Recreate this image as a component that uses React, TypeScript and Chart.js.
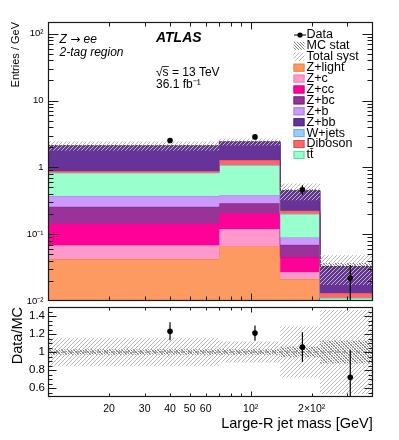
import React, { useEffect, useRef } from "react";
import { Chart, registerables } from "chart.js";

Chart.register(...registerables);

// ---------------- data ----------------
const binEdges = [10, 70, 140, 220, 400];
const zLight = [0.0424, 0.0662, 0.0213, 0.004];
const zC = [0.0261, 0.0538, 0.0058, 0.0008];
const zCC = [0.0755, 0.086, 0.0183, 0.0015];
const zBC = [0.114, 0.084, 0.0238, 0.001];
const zB = [0.115, 0.092, 0.0198, 0.0012];
const ttbar = [0.457, 0.698, 0.112, 0.0026];
const wJets = [0.002, 0.003, 0.001, 0.0001];
const diboson = [0.048, 0.202, 0.023, 0.002];
const zBB = [1.22, 1.125, 0.223, 0.0196];

const dataMass = [40, 105, 180, 310];
const dataValues = [2.53, 2.86, 0.463, 0.022];
const dataErrors = [0.2, 0.22, 0.075, 0.0125];

const ratioValues = [1.23, 1.21, 1.054, 0.72];
const ratioErrors = [0.1, 0.085, 0.165, 0.3];
const mcStatRel = [0.031, 0.03, 0.058, 0.128];
const totalSystRel = [0.158, 0.118, 0.284, 0.47];

const xTickValues = [20, 30, 40, 50, 60, 100, 200];
const xTickLabels = ["20", "30", "40", "50", "60", "10²", "2×10²"];
const xMinorTicks = [20, 30, 40, 50, 60, 70, 80, 90, 200, 300];
const xMajorTicks = [100];
const yTickValues = [0.01, 0.1, 1, 10, 100];
const yTickLabels = ["10⁻²", "10⁻¹", "1", "10", "10²"];
const ratioTickValues = [0.6, 0.8, 1, 1.2, 1.4];
const ratioTickLabels = ["0.6", "0.8", "1", "1.2", "1.4"];

// ---------------- styles ----------------
const FONT = "'Liberation Sans', Arial, Helvetica, sans-serif";
Chart.defaults.font.family = FONT;
Chart.defaults.color = "#000";

const components = [
  { key: "Z+light", values: zLight, color: "#FD9A62", edge: "#F2803F" },
  { key: "Z+c", values: zC, color: "#FF99CC", edge: "#F580B8" },
  { key: "Z+cc", values: zCC, color: "#FF0099", edge: "#DD0085" },
  { key: "Z+bc", values: zBC, color: "#993399", edge: "#7A2280" },
  { key: "Z+b", values: zB, color: "#CC99FF", edge: "#A97ADF" },
  { key: "tt̄", values: ttbar, color: "#99FFCC", edge: "#5FD9A0" },
  { key: "W+jets", values: wJets, color: "#99CCFF", edge: "#74ACE6" },
  { key: "Diboson", values: diboson, color: "#FF6666", edge: "#E84D4D" },
  { key: "Z+bb", values: zBB, color: "#663399", edge: "#4F2580" },
];
const legendOrder = ["Z+light", "Z+c", "Z+cc", "Z+bc", "Z+b", "Z+bb", "W+jets", "Diboson", "tt̄"];

const steps = (vals: number[]) =>
  binEdges.map((x, i) => ({ x, y: vals[Math.min(i, vals.length - 1)] }));

function makeHatch(ctx: CanvasRenderingContext2D, color: string, dir: number, size: number, lw: number) {
  const c = document.createElement("canvas");
  c.width = size;
  c.height = size;
  const g = c.getContext("2d")!;
  g.strokeStyle = color;
  g.lineWidth = lw;
  g.beginPath();
  if (dir > 0) {
    g.moveTo(0, size); g.lineTo(size, 0);
    g.moveTo(-1, 1); g.lineTo(1, -1);
    g.moveTo(size - 1, size + 1); g.lineTo(size + 1, size - 1);
  } else {
    g.moveTo(0, 0); g.lineTo(size, size);
    g.moveTo(size - 1, -1); g.lineTo(size + 1, 1);
    g.moveTo(-1, size - 1); g.lineTo(1, size + 1);
  }
  g.stroke();
  return ctx.createPattern(c, "repeat")!;
}

function framePlugin(o: any) {
  return {
    id: "frameTicks",
    afterDraw(chart: any) {
      const { ctx, chartArea: a, scales } = chart;
      const L = Math.round(a.left) + 0.5, R = Math.round(a.right) - 0.5;
      const T = Math.round(a.top) + 0.5, B = Math.round(a.bottom) - 0.5;
      ctx.save();
      ctx.strokeStyle = "#1a1a1a";
      ctx.lineWidth = 1;
      ctx.beginPath();
      const xt = (v: number, len: number) => {
        const px = Math.round(scales.x.getPixelForValue(v)) + 0.5;
        ctx.moveTo(px, B); ctx.lineTo(px, B - len);
        ctx.moveTo(px, T); ctx.lineTo(px, T + len);
      };
      const yt = (v: number, len: number) => {
        const py = Math.round(scales.y.getPixelForValue(v)) + 0.5;
        if (py < T || py > B) return;
        ctx.moveTo(L, py); ctx.lineTo(L + len, py);
        ctx.moveTo(R, py); ctx.lineTo(R - len, py);
      };
      o.xMajor.forEach((v: number) => xt(v, o.xMajLen));
      o.xMinor.forEach((v: number) => xt(v, o.xMinLen));
      o.yMajor.forEach((v: number) => yt(v, o.yMajLen));
      o.yMinor.forEach((v: number) => yt(v, o.yMinLen));
      ctx.stroke();
      ctx.lineWidth = 1.2;
      ctx.strokeRect(L, T, R - L, B - T);
      ctx.restore();
    },
  };
}

function errorBarPlugin(xs: number[], ys: number[], es: number[]) {
  return {
    id: "errorBars",
    afterDatasetsDraw(chart: any) {
      const { ctx, chartArea: a, scales } = chart;
      ctx.save();
      ctx.beginPath();
      ctx.rect(a.left, a.top, a.right - a.left, a.bottom - a.top);
      ctx.clip();
      ctx.strokeStyle = "#000";
      ctx.lineWidth = 1.2;
      ctx.beginPath();
      xs.forEach((x, i) => {
        const px = scales.x.getPixelForValue(x);
        const lo = ys[i] - es[i];
        const yTop = scales.y.getPixelForValue(ys[i] + es[i]);
        const yBot = lo > 0 ? scales.y.getPixelForValue(lo) : a.bottom + 5;
        ctx.moveTo(px, yTop);
        ctx.lineTo(px, yBot);
      });
      ctx.stroke();
      ctx.restore();
    },
  };
}

export default function App() {
  const topRef = useRef<HTMLCanvasElement>(null);
  const botRef = useRef<HTMLCanvasElement>(null);

  useEffect(() => {
    const c1 = topRef.current!, c2 = botRef.current!;
    const ctx1 = c1.getContext("2d")!, ctx2 = c2.getContext("2d")!;
    const systPat1 = makeHatch(ctx1, "#b8b8b8", 1, 4, 1);
    const statPat1 = makeHatch(ctx1, "rgba(60,60,60,0.75)", -1, 3, 0.9);
    const systPat2 = makeHatch(ctx2, "#b8b8b8", 1, 4, 1);
    const statPat2 = makeHatch(ctx2, "rgba(60,60,60,0.75)", -1, 3, 0.9);

    // cumulative stack
    const cumul: number[][] = [];
    components.reduce((acc: number[], c) => {
      const next = acc.map((v, i) => v + c.values[i]);
      cumul.push(next);
      return next;
    }, [0, 0, 0, 0]);
    const total = cumul[cumul.length - 1];

    const bandBase = { stepped: "before", pointRadius: 0, borderWidth: 0, borderColor: "rgba(0,0,0,0)" };
    const dsA: any[] = [];
    dsA.push({
      data: dataMass.map((x, i) => ({ x, y: dataValues[i] })),
      showLine: false, pointRadius: 2.8, pointBackgroundColor: "#000",
      pointBorderColor: "#000", pointBorderWidth: 0, borderColor: "#000", fill: false,
    });
    dsA.push({ ...bandBase, data: steps(total.map((t, i) => t * (1 + totalSystRel[i]))), fill: false });
    dsA.push({ ...bandBase, data: steps(total.map((t, i) => t * (1 - totalSystRel[i]))), fill: 1, backgroundColor: systPat1 });
    dsA.push({ ...bandBase, data: steps(total.map((t, i) => t * (1 + mcStatRel[i]))), fill: false });
    dsA.push({ ...bandBase, data: steps(total.map((t, i) => t * (1 - mcStatRel[i]))), fill: 3, backgroundColor: statPat1 });
    for (let k = components.length - 1; k >= 0; k--) {
      const idx = dsA.length;
      dsA.push({
        data: steps(cumul[k]), stepped: "before", pointRadius: 0, borderWidth: 1,
        borderColor: components[k].edge, backgroundColor: components[k].color,
        fill: k === 0 ? "start" : idx + 1,
      });
    }

    const yMinorMain: number[] = [];
    for (let e = -2; e <= 2; e++) for (let m = 2; m <= 9; m++) {
      const v = m * Math.pow(10, e);
      if (v < 150) yMinorMain.push(v);
    }

    const annotate = {
      id: "annotateA",
      afterDraw(chart: any) {
        const ctx = chart.ctx;
        ctx.save();
        ctx.fillStyle = "#000";
        ctx.textBaseline = "middle";
        ctx.textAlign = "left";
        // "Z → ee" with a wider arrow glyph
        let x = 59.5;
        ctx.font = `italic 12px ${FONT}`;
        ctx.fillText("Z ", x, 39.5);
        x += ctx.measureText("Z ").width;
        ctx.font = `12px 'DejaVu Sans', ${FONT}`;
        ctx.fillText("→", x, 40);
        x += ctx.measureText("→").width;
        ctx.font = `italic 12px ${FONT}`;
        ctx.fillText(" ee", x, 39.5);
        ctx.fillText("2-tag region", 59.5, 53);
        ctx.font = `italic bold 14px ${FONT}`;
        ctx.fillText("ATLAS", 156, 38.5);
        ctx.font = `12px ${FONT}`;
        const sx = 156, sy = 72.5;
        ctx.fillText("√s = 13 TeV", sx, sy);
        const w1 = ctx.measureText("√").width, w2 = ctx.measureText("√s").width;
        ctx.strokeStyle = "#000";
        ctx.lineWidth = 0.8;
        ctx.beginPath();
        ctx.moveTo(sx + w1 - 0.5, sy - 6);
        ctx.lineTo(sx + w2 + 0.3, sy - 6);
        ctx.stroke();
        ctx.fillText("36.1 fb⁻¹", 156, 85);

        // legend
        const lx0 = 293.5, lw = 11, lh = 8, tx = 306.5;
        const rowY = (i: number) => 35 + i * 10.9;
        ctx.lineWidth = 1;
        ctx.beginPath();
        ctx.moveTo(294, rowY(0)); ctx.lineTo(306, rowY(0));
        ctx.stroke();
        ctx.beginPath();
        ctx.arc(300, rowY(0), 2.6, 0, Math.PI * 2);
        ctx.fill();
        ctx.fillStyle = statPat1;
        ctx.fillRect(lx0, rowY(1) - 4, lw, lh);
        ctx.fillStyle = systPat1;
        ctx.fillRect(lx0, rowY(2) - 4, lw, lh);
        legendOrder.forEach((key, j) => {
          const c = components.find((cc) => cc.key === key)!;
          const y = rowY(3 + j);
          ctx.fillStyle = c.color;
          ctx.fillRect(lx0, y - 4, lw, lh);
          ctx.strokeStyle = c.edge;
          ctx.strokeRect(lx0 + 0.5, y - 3.5, lw - 1, lh - 1);
        });
        ctx.fillStyle = "#000";
        ctx.font = `12.5px ${FONT}`;
        ["Data", "MC stat", "Total syst", ...legendOrder].forEach((t, i) => ctx.fillText(t, tx, rowY(i)));
        ctx.restore();
      },
    };

    const chartA = new Chart(c1, {
      type: "line",
      data: { datasets: dsA },
      options: {
        responsive: false,
        animation: false,
        events: [],
        layout: { padding: { top: 22, bottom: 139, left: 0, right: 26.3 } },
        plugins: { legend: { display: false }, tooltip: { enabled: false } },
        scales: {
          x: { type: "logarithmic", min: 10, max: 400, bounds: "data", display: false },
          y: {
            type: "logarithmic", min: 0.01, max: 150, bounds: "data",
            afterBuildTicks: (s: any) => { s.ticks = yTickValues.map((v) => ({ value: v })); },
            afterFit: (s: any) => { s.width = 48; s.paddingTop = 0; s.paddingBottom = 0; },
            grid: { display: false, drawTicks: false },
            border: { display: false },
            ticks: {
              autoSkip: false, padding: 4.5, color: "#000",
              font: { family: FONT, size: 9.5 },
              callback: (_v: any, i: number) => yTickLabels[i] ?? "",
            },
            title: {
              display: true, text: "Entries / GeV", align: "end", color: "#000",
              font: { family: FONT, size: 11 }, padding: { top: 9.4, bottom: 0 },
            },
          },
        },
      } as any,
      plugins: [
        errorBarPlugin(dataMass, dataValues, dataErrors),
        framePlugin({
          xMajor: xMajorTicks, xMinor: xMinorTicks, xMajLen: 7, xMinLen: 4,
          yMajor: yTickValues, yMinor: yMinorMain, yMajLen: 10, yMinLen: 5,
        }),
        annotate,
      ],
    } as any);

    const dsB: any[] = [
      {
        data: dataMass.map((x, i) => ({ x, y: ratioValues[i] })),
        showLine: false, pointRadius: 2.8, pointBackgroundColor: "#000",
        pointBorderColor: "#000", pointBorderWidth: 0, borderColor: "#000", fill: false,
      },
      {
        data: [{ x: binEdges[0], y: 1 }, { x: binEdges[binEdges.length - 1], y: 1 }],
        borderColor: "#808080", borderWidth: 1, borderDash: [4, 3], pointRadius: 0, fill: false,
      },
      { ...bandBase, data: steps(totalSystRel.map((s) => 1 + s)), fill: false },
      { ...bandBase, data: steps(totalSystRel.map((s) => 1 - s)), fill: 2, backgroundColor: systPat2 },
      { ...bandBase, data: steps(mcStatRel.map((s) => 1 + s)), fill: false },
      { ...bandBase, data: steps(mcStatRel.map((s) => 1 - s)), fill: 4, backgroundColor: statPat2 },
    ];

    const rMinor: number[] = [];
    for (let k = 11; k < 30; k++) if (k % 4 !== 0) rMinor.push(k * 0.05);

    const chartB = new Chart(c2, {
      type: "line",
      data: { datasets: dsB },
      options: {
        responsive: false,
        animation: false,
        events: [],
        layout: { padding: { top: 307, bottom: 0, left: 0, right: 26.3 } },
        plugins: { legend: { display: false }, tooltip: { enabled: false } },
        scales: {
          x: {
            type: "logarithmic", min: 10, max: 400, bounds: "data",
            afterBuildTicks: (s: any) => { s.ticks = xTickValues.map((v) => ({ value: v })); },
            afterFit: (s: any) => { s.height = 43; s.paddingLeft = 0; s.paddingRight = 0; },
            grid: { display: false, drawTicks: false },
            border: { display: false },
            ticks: {
              autoSkip: false, maxRotation: 0, minRotation: 0, padding: 5.5, color: "#000",
              font: { family: FONT, size: 10.5 },
              callback: (_v: any, i: number) => xTickLabels[i] ?? "",
            },
            title: {
              display: true, text: "Large-R jet mass [GeV]", align: "end", color: "#000",
              font: { family: FONT, size: 14.5 }, padding: { top: 0, bottom: 7 },
            },
          },
          y: {
            type: "linear", min: 0.5, max: 1.5, bounds: "data",
            afterBuildTicks: (s: any) => { s.ticks = ratioTickValues.map((v) => ({ value: v })); },
            afterFit: (s: any) => { s.width = 48; s.paddingTop = 0; s.paddingBottom = 0; },
            grid: { display: false, drawTicks: false },
            border: { display: false },
            ticks: {
              autoSkip: false, padding: 3, color: "#000",
              font: { family: FONT, size: 11.5 },
              callback: (_v: any, i: number) => ratioTickLabels[i] ?? "",
            },
            title: {
              display: true, text: "Data/MC", align: "end", color: "#000",
              font: { family: FONT, size: 14.5 }, padding: { top: 9.3, bottom: 0 },
            },
          },
        },
      } as any,
      plugins: [
        errorBarPlugin(dataMass, ratioValues, ratioErrors),
        framePlugin({
          xMajor: xMajorTicks, xMinor: xMinorTicks, xMajLen: 5, xMinLen: 3,
          yMajor: ratioTickValues, yMinor: rMinor, yMajLen: 8, yMinLen: 4,
        }),
      ],
    } as any);

    return () => {
      chartA.destroy();
      chartB.destroy();
    };
  }, []);

  return (
    <div style={{ position: "fixed", left: 0, top: 0, width: 399, height: 440, background: "#fff" }}>
      <canvas ref={botRef} width={399} height={440} style={{ position: "absolute", left: 0, top: 0 }} />
      <canvas ref={topRef} width={399} height={440} style={{ position: "absolute", left: 0, top: 0 }} />
    </div>
  );
}
